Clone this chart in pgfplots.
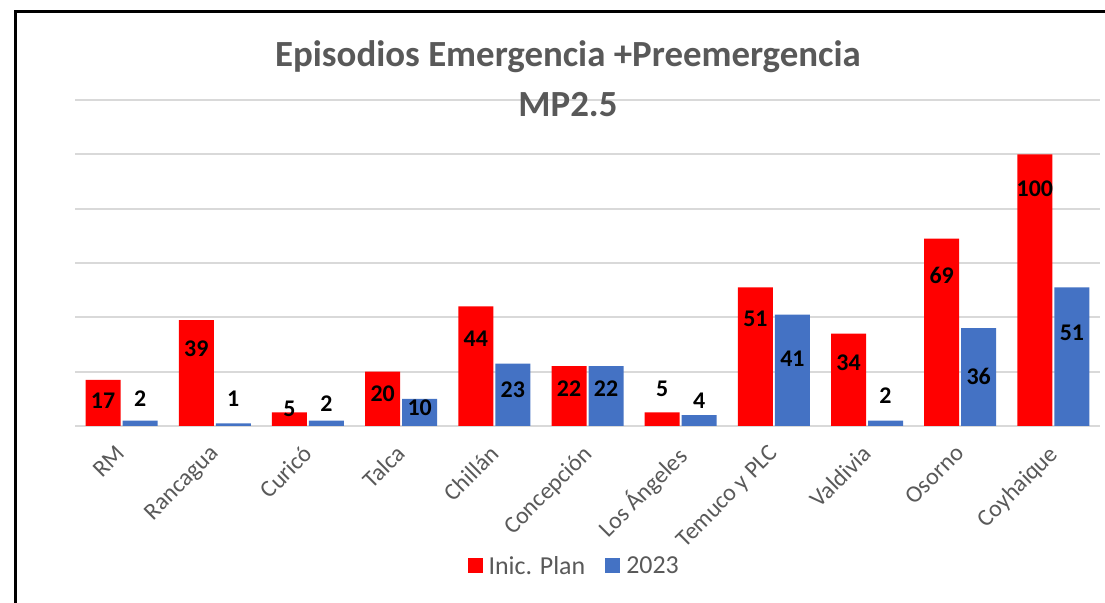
\documentclass[border=0pt]{standalone}
\usepackage{pgfplots}
\pgfplotsset{compat=1.18}
\usepackage{fontspec}
\setmainfont{Carlito}
\definecolor{cred}{HTML}{FF0000}
\definecolor{cblue}{HTML}{4472C4}
\definecolor{tgray}{HTML}{595959}
\definecolor{ggray}{HTML}{D9D9D9}
\begin{document}
\begin{tikzpicture}[x=1bp,y=1bp]
\path[use as bounding box] (0,0) rectangle (1105,603);
\fill[white] (0,0) rectangle (1105,603);
\draw[black, line width=3bp] (15,0) -- (15,591.5) -- (1105,591.5);
\begin{axis}[
  at={(75bp,177bp)}, anchor=south west,
  scale only axis, width=1025bp, height=326bp,
  xmin=-0.5, xmax=10.5, ymin=0, ymax=120,
  axis line style={draw=none},
  ytick={0,20,...,120}, yticklabels={},
  ymajorgrids, grid style={ggray, line width=2bp},
  major tick length=0pt,
  xtick={0,...,10},
  xticklabels={RM,Rancagua,Curicó,Talca,Chillán,Concepción,Los Ángeles,Temuco y PLC,Valdivia,Osorno,Coyhaique},
  x tick label style={xshift=-6bp, yshift=-13bp, rotate=45, anchor=north east, font=\fontsize{24}{24}\selectfont, text=tgray},
  clip=false,
  legend style={at={(rel axis cs:0.487,-0.429)}, anchor=center, draw=none, fill=none,
    legend columns=2, font=\fontsize{26}{26}\selectfont, text=tgray,
    /tikz/every odd column/.append style={column sep=4bp},
    /tikz/every even column/.append style={column sep=18bp}},
]
\addplot[ybar, bar width=35bp, bar shift=-18.5bp, fill=cred, draw=none,
  legend image code/.code={\fill[cred] (0bp,-7.5bp) rectangle (15bp,7.5bp);}]
  coordinates {(0,17) (1,39) (2,5) (3,20) (4,44) (5,22) (6,5) (7,51) (8,34) (9,69) (10,100)};
\addlegendentry{Inic. Plan}
\addplot[ybar, bar width=35bp, bar shift=18.5bp, fill=cblue, draw=none,
  legend image code/.code={\fill[cblue] (0bp,-7.5bp) rectangle (15bp,7.5bp);}]
  coordinates {(0,2) (1,1) (2,2) (3,10) (4,23) (5,22) (6,4) (7,41) (8,2) (9,36) (10,51)};
\addlegendentry{2023}
\addplot[forget plot, only marks, mark=none,
  point meta=explicit symbolic, nodes near coords,
  every node near coord/.append style={anchor=center, xshift=-18.5bp, text=black, font=\bfseries\fontsize{24}{24}\selectfont}]
  coordinates {(0,9.3)[17] (1,28.3)[39] (2,6.5)[5] (3,11.7)[20] (4,32.1)[44] (5,13.9)[22] (6,13.6)[5] (7,39.3)[51] (8,23.3)[34] (9,55.6)[69] (10,87.5)[100]};
\addplot[forget plot, only marks, mark=none,
  point meta=explicit symbolic, nodes near coords,
  every node near coord/.append style={anchor=center, xshift=18.5bp, text=black, font=\bfseries\fontsize{24}{24}\selectfont}]
  coordinates {(0,10.2)[2] (1,10.2)[1] (2,8.1)[2] (3,6.9)[10] (4,13.5)[23] (5,13.9)[22] (6,9.3)[4] (7,24.9)[41] (8,11.0)[2] (9,18.4)[36] (10,34.3)[51]};
\end{axis}
\node[anchor=base, font=\bfseries\fontsize{37}{37}\selectfont, text=tgray] at (568,536) {Episodios Emergencia +Preemergencia};
\node[anchor=base, font=\bfseries\fontsize{37}{37}\selectfont, text=tgray] at (568,486) {MP2.5};
\end{tikzpicture}
\end{document}
